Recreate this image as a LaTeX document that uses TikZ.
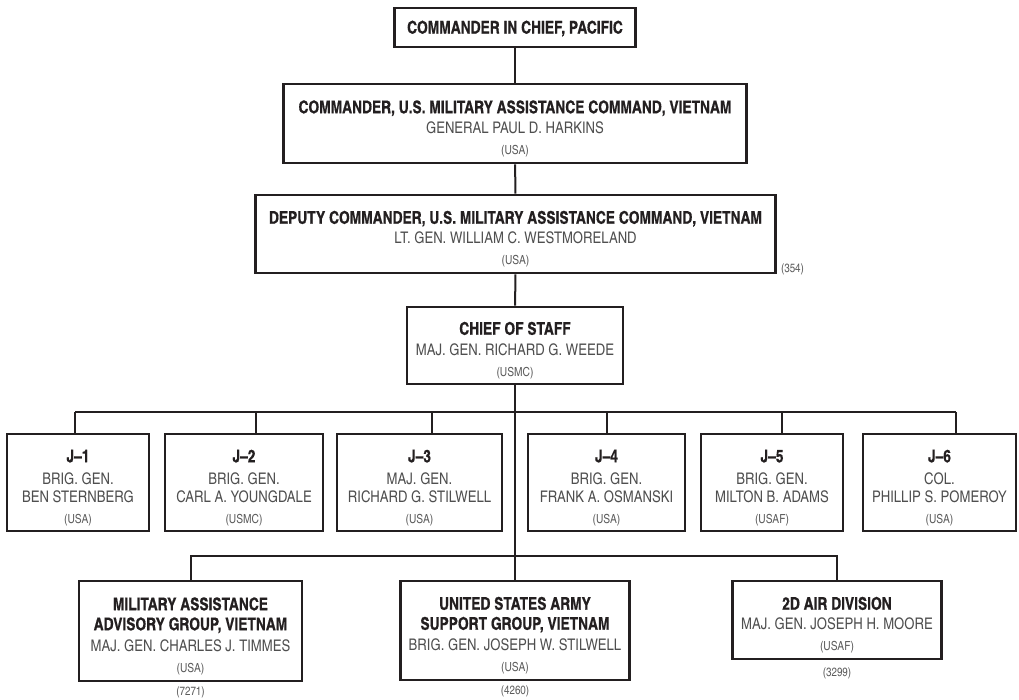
\documentclass[tikz,border=0pt]{standalone}
\usepackage{fontspec}
\setmainfont{texgyreheroscn}[Extension=.otf, UprightFont=*-regular, BoldFont=*-bold,
    BoldFeatures={FakeStretch=0.96, FakeBold=0.6}]
\usetikzlibrary{positioning}

\definecolor{linec}{HTML}{231F20}
\definecolor{namec}{HTML}{4F4F4F}
\definecolor{smallc}{HTML}{5C5C5C}

\newcommand{\hd}[1]{{\fontsize{17.5}{20}\selectfont\bfseries\color{linec}#1}}
\newcommand{\hdtop}[1]{\rule{0pt}{23pt}\hd{#1}}
\newcommand{\nm}[1]{{\fontsize{16}{20}\selectfont\color{namec}#1}}
\newcommand{\sm}[1]{{\fontsize{12.5}{20}\selectfont\color{smallc}#1}}

\begin{document}
\begin{tikzpicture}[x=1pt, y=-1pt]
    \useasboundingbox (0,0) rectangle (1019,699);

    % command chain
    \begin{scope}[every node/.style={draw=linec, line width=2.6pt, inner sep=0pt, align=center,
                  font=\fontsize{16}{20}\selectfont}]
        \node[minimum width=241pt, minimum height=39pt] (cinc) at (515,27.5)
            {\rule{0pt}{15pt}\hd{COMMANDER IN CHIEF, PACIFIC}};
        \node[minimum width=463pt, minimum height=79pt] (cmd) at (515,123.5)
            {\hdtop{COMMANDER, U.S. MILITARY ASSISTANCE COMMAND, VIETNAM}\\
             \nm{GENERAL PAUL D. HARKINS}\\[1pt] \sm{(USA)}};
        \node[minimum width=520pt, minimum height=78pt] (dep) at (515.5,234)
            {\hdtop{DEPUTY COMMANDER, U.S. MILITARY ASSISTANCE COMMAND, VIETNAM}\\
             \nm{LT. GEN. WILLIAM C. WESTMORELAND}\\[1pt] \sm{(USA)}};
        \node[minimum width=216pt, minimum height=77pt] (chief) at (515,345.5)
            {\hdtop{CHIEF OF STAFF}\\[1pt]
             \nm{MAJ. GEN. RICHARD G. WEEDE}\\[1pt] \sm{(USMC)}};

        % joint staff
        \node[minimum width=142pt, minimum height=97pt] (j1) at (78,482.5)
            {\hdtop{J–1}\\[2pt] \nm{BRIG. GEN.}\\[-2pt] \nm{BEN STERNBERG}\\[1pt] \sm{(USA)}};
        \node[minimum width=158pt, minimum height=97pt] (j2) at (244,482.5)
            {\hdtop{J–2}\\[2pt] \nm{BRIG. GEN.}\\[-2pt] \nm{CARL A. YOUNGDALE}\\[1pt] \sm{(USMC)}};
        \node[minimum width=165pt, minimum height=97pt] (j3) at (419.5,482.5)
            {\hdtop{J–3}\\[2pt] \nm{MAJ. GEN.}\\[-2pt] \nm{RICHARD G. STILWELL}\\[1pt] \sm{(USA)}};
        \node[minimum width=157pt, minimum height=97pt] (j4) at (606.5,482.5)
            {\hdtop{J–4}\\[2pt] \nm{BRIG. GEN.}\\[-2pt] \nm{FRANK A. OSMANSKI}\\[1pt] \sm{(USA)}};
        \node[minimum width=142pt, minimum height=97pt] (j5) at (772,482.5)
            {\hdtop{J–5}\\[2pt] \nm{BRIG. GEN.}\\[-2pt] \nm{MILTON B. ADAMS}\\[1pt] \sm{(USAF)}};
        \node[minimum width=153pt, minimum height=97pt] (j6) at (939.5,482.5)
            {\hdtop{J–6}\\[2pt] \nm{COL.}\\[-2pt] \nm{PHILLIP S. POMEROY}\\[1pt] \sm{(USA)}};

        % field commands
        \node[minimum width=223pt, minimum height=100pt] (maag) at (190.5,631)
            {\hdtop{MILITARY ASSISTANCE}\\ \hd{ADVISORY GROUP, VIETNAM}\\[1pt]
             \nm{MAJ. GEN. CHARLES J. TIMMES}\\[1pt] \sm{(USA)}};
        \node[minimum width=229pt, minimum height=99pt] (usasg) at (515,630.5)
            {\hdtop{UNITED STATES ARMY}\\ \hd{SUPPORT GROUP, VIETNAM}\\[1pt]
             \nm{BRIG. GEN. JOSEPH W. STILWELL}\\[1pt] \sm{(USA)}};
        \node[minimum width=209pt, minimum height=78pt] (air) at (837,620)
            {\hdtop{2D AIR DIVISION}\\
             \nm{MAJ. GEN. JOSEPH H. MOORE}\\[1pt] \sm{(USAF)}};
    \end{scope}

    % strengths
    \begin{scope}[every node/.style={inner sep=0pt, text=smallc, font=\fontsize{12}{14}\selectfont}]
        \node[anchor=base west] (n354) at ([xshift=4pt, yshift=2pt]dep.south east) {(354)};
        \node[below=4.5pt of maag] (n7271) {(7271)};
        \node[below=4.5pt of usasg] (n4260) {(4260)};
        \node[below=7pt of air] (n3299) {(3299)};
    \end{scope}

    % connectors
    \coordinate (t1) at (75,412);
    \coordinate (t2) at (256,412);
    \coordinate (t3) at (432,412);
    \coordinate (t4) at (607,412);
    \coordinate (t5) at (782,412);
    \coordinate (t6) at (956,412);
    \begin{scope}[every edge/.style={draw=linec, line width=2pt}]
        \path [-] (cinc) edge (cmd);
        \path [-] (cmd) edge (dep);
        \path [-] (dep) edge (chief);
        \path [-] (chief) edge (usasg);
        \path [-] (t1) edge (t6);
        \foreach \i in {1,...,6}
            \path [-] (t\i) edge (t\i |- j\i.north);
    \end{scope}
    \draw[draw=linec, line width=2pt] (maag.north) -- ++(0,-24) -| (air.north);
\end{tikzpicture}
\end{document}
